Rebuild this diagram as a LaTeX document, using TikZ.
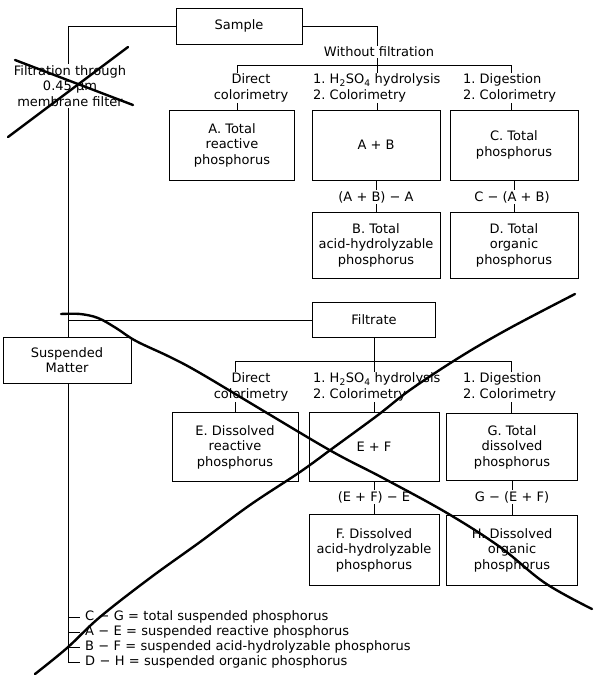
\documentclass[tikz,border=0pt]{standalone}
\usepackage{fontspec}
\setmainfont{DejaVu Sans}
\usetikzlibrary{backgrounds}
\begin{document}
\begin{tikzpicture}[x=1pt,y=-1pt,
  every node/.style={font=\fontsize{13}{15.5}\selectfont},
  box/.style={draw, line width=0.8pt, fill=white, align=center, inner sep=1pt},
  lbl/.style={fill=white, align=center, inner sep=1pt},
  steplbl/.style={fill=white, align=left, inner sep=1pt, anchor=west},
  leg/.style={anchor=west, inner sep=0pt},
  wire/.style={line width=0.8pt},
  hand/.style={line width=2.4pt, line cap=round, line join=round}]
\useasboundingbox (0,0) rectangle (595,675);

% ---------- upper part ----------
\node[box, minimum width=126pt, minimum height=36pt] (sample) at (239,26) {Sample};
\node[lbl] (filt) at (70,86) {Filtration through\\0.45 µm\\membrane filter};
\node[lbl] (wof) at (379,52) {Without filtration};
\node[lbl] (c1t) at (251,88) {Direct\\colorimetry};
\node[steplbl] (c2t) at (312,88) {1.~H\textsubscript{2}SO\textsubscript{4} hydrolysis\\2.~Colorimetry};
\node[steplbl] (c3t) at (462,88) {1.~Digestion\\2.~Colorimetry};

\node[box, minimum width=125pt, minimum height=70pt] (A) at (232,145) {A. Total\\reactive\\phosphorus};
\node[box, minimum width=128pt, minimum height=70pt] (AB) at (376,145) {A + B};
\node[box, minimum width=128pt, minimum height=70pt] (C) at (514,145) {C. Total\\phosphorus};
\node[lbl] (abl) at (376,197) {(A + B) − A};
\node[lbl] (cl) at (512,197) {C − (A + B)};
\node[box, minimum width=128pt, minimum height=66pt] (B) at (376,245) {B. Total\\acid-hydrolyzable\\phosphorus};
\node[box, minimum width=128pt, minimum height=66pt] (D) at (514,245) {D. Total\\organic\\phosphorus};

% ---------- lower part ----------
\node[box, minimum width=123pt, minimum height=35pt] (filtrate) at (374,320) {Filtrate};
\node[box, minimum width=128pt, minimum height=46pt] (susp) at (67,360) {Suspended\\Matter};
\node[lbl] (d1t) at (251,387) {Direct\\colorimetry};
\node[steplbl] (d2t) at (312,387) {1.~H\textsubscript{2}SO\textsubscript{4} hydrolysis\\2.~Colorimetry};
\node[steplbl] (d3t) at (462,387) {1.~Digestion\\2.~Colorimetry};

\node[box, minimum width=126pt, minimum height=69pt] (E) at (235,447) {E. Dissolved\\reactive\\phosphorus};
\node[box, minimum width=130pt, minimum height=69pt] (EF) at (374,447) {E + F};
\node[box, minimum width=131pt, minimum height=67pt] (G) at (512,447) {G. Total\\dissolved\\phosphorus};
\node[lbl] (efl) at (374,497) {(E + F) − E};
\node[lbl] (gl) at (512,497) {G − (E + F)};
\node[box, minimum width=130pt, minimum height=71pt] (F) at (374,550) {F. Dissolved\\acid-hydrolyzable\\phosphorus};
\node[box, minimum width=131pt, minimum height=70pt] (H) at (512,550) {H. Dissolved\\organic\\phosphorus};

% ---------- legend ----------
\node[leg] (leg1) at (85,617) {C\,\,−\,\,G\,\,=\,\,total suspended phosphorus};
\node[leg] (leg2) at (85,632) {A\,\,−\,\,E\,\,=\,\,suspended reactive phosphorus};
\node[leg] (leg3) at (85,647) {B\,\,−\,\,F\,\,=\,\,suspended acid-hydrolyzable phosphorus};
\node[leg] (leg4) at (85,662) {D\,\,−\,\,H\,\,=\,\,suspended organic phosphorus};

% ---------- coordinates ----------
\coordinate (t0) at (68,26);
\coordinate (tf) at (68,320);
\coordinate (tb) at (68,662);
\coordinate (s1) at (68,617);
\coordinate (s2) at (68,632);
\coordinate (s3) at (68,647);
\coordinate (e1) at (80,617);
\coordinate (e2) at (80,632);
\coordinate (e3) at (80,647);
\coordinate (e4) at (80,662);
\coordinate (w0) at (377,26);
\coordinate (w1) at (377,65);
\coordinate (b1) at (237,65);
\coordinate (b3) at (511,65);
\coordinate (f1) at (374,361);
\coordinate (g1) at (235,361);
\coordinate (g3) at (511,361);

\begin{pgfonlayer}{background}
\draw[wire] (sample.west) -- (t0) -- (tb) -- (e4);
\draw[wire] (s1) -- (e1);
\draw[wire] (s2) -- (e2);
\draw[wire] (s3) -- (e3);
\draw[wire] (sample.east |- w0) -- (w0) -- (w1);
\draw[wire] (b1) -- (b3);
\draw[wire] (b1) -- (b1 |- A.north);
\draw[wire] (w1) -- (w1 |- AB.north);
\draw[wire] (b3) -- (b3 |- C.north);
\draw[wire] (AB.south) -- (B.north);
\draw[wire] (C.south) -- (D.north);
\draw[wire] (tf) -- (filtrate.west);
\draw[wire] (filtrate.south) -- (f1);
\draw[wire] (g1) -- (g3);
\draw[wire] (g1) -- (g1 |- E.north);
\draw[wire] (f1) -- (f1 |- EF.north);
\draw[wire] (g3) -- (g3 |- G.north);
\draw[wire] (EF.south) -- (F.north);
\draw[wire] (G.south) -- (H.north);
\end{pgfonlayer}

% ---------- hand-drawn strike-outs ----------
\draw[hand] (15,60) -- (133,105);
\draw[hand] (8,137) -- (128,47);
\draw[hand] plot[smooth, tension=0.6] coordinates {(61,314) (80,314) (98,318) (116,328) (136,341) (170,357) (200,373) (267,413) (333,452) (383,478) (447,513) (500,547) (545,583) (592,609)};
\draw[hand] plot[smooth, tension=0.6] coordinates {(35,674) (67,648) (100,617) (150,578) (200,542) (250,505) (300,472) (333,448) (378,415) (410,390) (460,357) (510,328) (575,294)};
\end{tikzpicture}
\end{document}
